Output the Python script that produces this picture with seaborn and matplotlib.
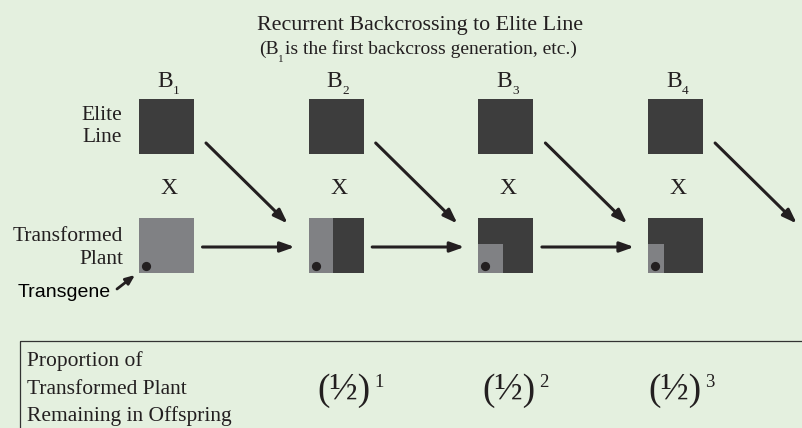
import numpy as np
import pandas as pd
import matplotlib
matplotlib.use("Agg")
import matplotlib.pyplot as plt
import seaborn as sns
from matplotlib.patches import Rectangle

# backcross generations (subscripts of B)
generations = ["1", "2", "3", "4"]
# share of the transformed-plant square still light grey in each offspring
light_width = [1.0, 0.45, 0.45, 0.29]
light_height = [1.0, 1.0, 0.53, 0.53]
# exponents in the proportion row
exponents = [1, 2, 3]

title = "Recurrent Backcrossing to Elite Line"
subtitle = "is the first backcross generation, etc.)"
row_label = ["Proportion of", "Transformed Plant", "Remaining in Offspring"]

BG = "#e4f0df"
DARK = "#3d3d3d"
LIGHT = "#808184"
INK = "#231f20"
SERIF = "Liberation Serif"

sns.set_theme(style="white", rc={"axes.facecolor": BG, "figure.facecolor": BG})
plt.rcParams["font.family"] = [SERIF, "DejaVu Serif"]

fig = plt.figure(figsize=(8.02, 4.28), dpi=100)
ax = fig.add_axes([0, 0, 1, 1])
ax.set_xlim(0, 802)
ax.set_ylim(428, 0)
ax.axis("off")

x0, step, sq = 139, 169.7, 55
elite_top, plant_top = 99, 218
lefts = x0 + step * np.arange(len(generations))
centers = lefts + sq / 2

df = pd.DataFrame({"gen": generations, "left": lefts, "center": centers,
                   "lw": light_width, "lh": light_height})

for _, r in df.iterrows():
    # elite line parent
    ax.add_patch(Rectangle((r.left, elite_top), sq, sq, color=DARK, lw=0))
    # offspring / transformed plant
    ax.add_patch(Rectangle((r.left, plant_top), sq, sq, color=DARK, lw=0))
    h = sq * r.lh
    ax.add_patch(Rectangle((r.left, plant_top + sq - h), sq * r.lw, h, color=LIGHT, lw=0))
    # labels
    ax.text(r.center + 6, 87, "B", ha="right", va="baseline", fontsize=17, color=INK)
    ax.text(r.center + 6.5, 94, r.gen, ha="left", va="baseline", fontsize=9.5, color=INK)
    ax.text(r.center + 2.5, 194, "X", ha="center", va="baseline", fontsize=17, color=INK)

# transgene dots
dots = pd.DataFrame({"x": df.left + 7, "y": plant_top + sq - 7})
sns.scatterplot(data=dots, x="x", y="y", ax=ax, s=44, color=INK, linewidth=0, zorder=5)

arrow = dict(arrowstyle="-|>,head_length=0.7,head_width=0.25", color=INK, lw=2.2,
             shrinkA=0, shrinkB=0, mutation_scale=12)
for l in lefts:
    ax.annotate("", xy=(l + step - 14, 247), xytext=(l + sq + 8.5, 247), arrowprops=arrow)
    ax.annotate("", xy=(l + step - 21, 223.5), xytext=(l + sq + 12, 143), arrowprops=arrow)

# titles
ax.text(420, 29.5, title, ha="center", va="baseline", fontsize=15.8, color=INK)
ax.text(259, 54, "(B", ha="left", va="baseline", fontsize=14, color=INK)
ax.text(278, 62, "1", ha="left", va="baseline", fontsize=8, color=INK)
ax.text(285, 54, subtitle, ha="left", va="baseline", fontsize=14, color=INK)

# row labels
ax.text(122, 120, "Elite", ha="right", va="baseline", fontsize=15.5, color=INK)
ax.text(122, 142, "Line", ha="right", va="baseline", fontsize=15.5, color=INK)
ax.text(123, 241, "Transformed", ha="right", va="baseline", fontsize=15.5, color=INK)
ax.text(123, 264, "Plant", ha="right", va="baseline", fontsize=15.5, color=INK)
ax.text(18, 297, "Transgene", ha="left", va="baseline", fontsize=14, color="black",
        family=["Liberation Sans", "DejaVu Sans"])
ax.annotate("", xy=(135, 275), xytext=(117, 289),
            arrowprops=dict(arrowstyle="-|>,head_length=0.6,head_width=0.25", color=INK,
                            lw=2, shrinkA=0, shrinkB=0, mutation_scale=9))

# proportion box
ax.add_patch(Rectangle((20, 341), 800, 120, fill=False, ec="#333333", lw=0.9))
for i, line in enumerate(row_label):
    ax.text(27, 366 + 27.5 * i, line, ha="left", va="baseline", fontsize=15.5, color=INK)

fig.canvas.draw()
renderer = fig.canvas.get_renderer()
inv = ax.transData.inverted()
for i, e in enumerate(exponents):
    t = ax.text(317 + 165.5 * i, 400, "(\u00bd)", ha="left", va="baseline",
                fontsize=27, color=INK)
    bb = t.get_window_extent(renderer)
    xr = inv.transform((bb.x1, bb.y0))[0]
    ax.text(xr + 4, 387, str(e), ha="left", va="baseline", fontsize=13.5, color=INK)

fig.savefig("out.png", dpi=100, facecolor=BG)
